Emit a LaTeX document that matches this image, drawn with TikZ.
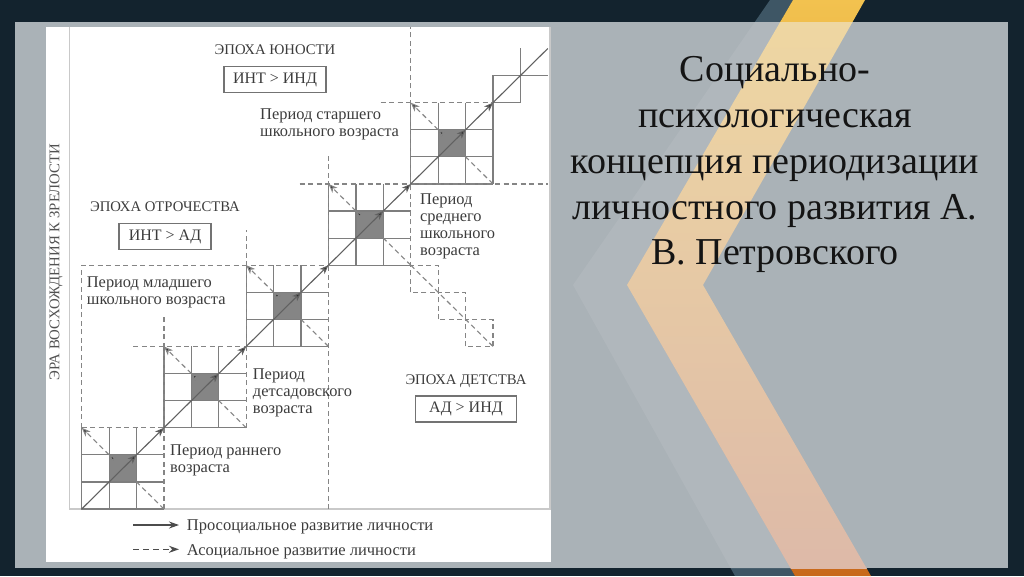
\documentclass[tikz,border=0pt]{standalone}
\usepackage{fontspec}
\setmainfont{Liberation Serif}
\usetikzlibrary{arrows.meta}

\definecolor{slidebg}{HTML}{13232E}
\definecolor{panelgrey}{HTML}{AAB2B7}
\definecolor{paleblue}{HTML}{7FA3B8}
\definecolor{goldtop}{HTML}{F2C24F}
\definecolor{orangebot}{HTML}{C8691A}
\definecolor{peachtop}{HTML}{EFD8A2}
\definecolor{peachmid}{HTML}{E9CAA9}
\definecolor{peachbot}{HTML}{DDB9A8}
\definecolor{inkgrey}{HTML}{3C3C3C}
\definecolor{linegrey}{HTML}{7E7E7E}
\definecolor{dashgrey}{HTML}{858585}
\definecolor{framegrey}{HTML}{C9C9C9}

\tikzset{
  cellline/.style={draw=linegrey, line width=1.2pt},
  bound/.style={draw=dashgrey, line width=1.2pt, dash pattern=on 5pt off 3.5pt},
  core/.style={fill=black!48},
  prosoc/.style={draw=black!62, line width=1.1pt, -{Stealth[length=9pt,width=7pt,inset=2.5pt,fill=black!85]}},
  asoc/.style={draw=black!48, line width=1.1pt, dash pattern=on 5pt off 3.5pt, -{Stealth[length=9pt,width=7pt,inset=2.5pt,fill=black!85]}},
  legendarrow/.style={draw=black!70, line width=1.3pt, -{Stealth[length=10pt,width=7pt]}},
  epoch/.style={text=inkgrey, font=\fontsize{14.7}{16}\selectfont, inner sep=0pt},
  ratiobox/.style={draw=black!55, line width=1.2pt, text=inkgrey, font=\fontsize{16}{18}\selectfont, minimum height=26pt, inner sep=0pt},
  periodlabel/.style={text=inkgrey, font=\fontsize{16.4}{17}\selectfont, align=left, inner sep=0pt, anchor=north west},
  legendtext/.style={text=inkgrey, font=\fontsize{16.5}{18}\selectfont, inner sep=0pt, anchor=base west},
  titleline/.style={text=black!92, font=\fontsize{38}{45.8}\selectfont, inner sep=0pt, anchor=base},
}

\begin{document}
\begin{tikzpicture}[x=1pt, y=-1pt, node distance=30pt]
  \useasboundingbox (0,0) rectangle (1024,576);

  % slide background
  \fill[slidebg] (0,0) rectangle (1024,576);
  \fill[paleblue, opacity=0.4] (770,0) -- (573,285) -- (735,576) -- (795,576) -- (627,285) -- (793,0) -- cycle;
  \shade[top color=goldtop, bottom color=orangebot] (793,0) -- (627,285) -- (795,576) -- (871,576) -- (703,285) -- (865,0) -- cycle;
  \fill[panelgrey] (15,22) rectangle (1008,568);
  \begin{scope}
    \clip (15,22) rectangle (1008,568);
    \fill[white, opacity=0.07] (770,0) -- (573,285) -- (735,576) -- (795,576) -- (627,285) -- (793,0) -- cycle;
    \shade[top color=peachtop, middle color=peachmid, bottom color=peachbot] (793,0) -- (627,285) -- (795,576) -- (871,576) -- (703,285) -- (865,0) -- cycle;
  \end{scope}

  \foreach \line [count=\n] in {Социально-, психологическая, концепция периодизации, личностного развития А., В. Петровского}
    \node[titleline] (title\n) at (775, {81.7+45.8*(\n-1)}) {\line};

  % scanned figure
  \fill[white] (46,27) rectangle (551,562);
  \draw[framegrey, line width=1.8pt] (69.5,27) -- (69.5,509) -- (550,509) -- (550,27);
  \node[rotate=90, text=black!68, font=\fontsize{14.8}{16}\selectfont, inner sep=0pt] (era) at (56,262) {ЭРА ВОСХОЖДЕНИЯ К ЗРЕЛОСТИ};

  \begin{scope}[xshift=81.7pt, yshift=-509pt, x=27.42pt, y=27.09pt]
    \foreach \k in {0,...,4} {
      \pgfmathtruncatemacro\a{3*\k}
      \begin{scope}[shift={(\a,\a)}]
        \fill[core] (1,1) rectangle (2,2);
        \draw[cellline] (0,3) -- (0,0) -- (3,0) (1,0) -- (1,3) (2,0) -- (2,3) (0,1) -- (3,1) (0,2) -- (3,2);
        \coordinate (ll\k) at (0,0);
        \coordinate (lr\k) at (3,0);
        \coordinate (ul\k) at (0,3);
        \coordinate (ur\k) at (3,3);
        \coordinate (cur\k) at (2,2);
        \coordinate (cul\k) at (1,2);
      \end{scope}
    }
    \draw[cellline] (lr4) -- (ur4);
    \draw[cellline] (15,15) rectangle (16,16) (16,16) -- (16,17) (16,16) -- (17,16);

    \draw[bound] (0,3) -- (0,9) -- (9,9);
    \draw[bound] (0,3) -- (3,3);
    \draw[bound] (1.88,6) -- (6,6);
    \draw[bound] (3,0) -- (3,7.1);
    \draw[bound] (6,3) -- (6,10.3);
    \draw[bound] (9,0) -- (9,13.1);
    \draw[bound] (7.95,12) -- (17,12);
    \draw[bound] (12,8) -- (12,17.8);
    \draw[bound] (10.9,15) -- (15,15);
    \foreach \m in {0,1,2}
      \draw[bound] (12+\m,8-\m) rectangle +(1,1);

    \coordinate (diagEnd) at (17,17);
    \coordinate (asocEnd) at (15,6);
    \foreach \k in {0,...,4} {
      \draw[prosoc] (ll\k) -- (cur\k);
      \draw[prosoc] (cur\k) -- (ur\k);
      \draw[asoc] (lr\k) -- (cul\k);
      \draw[asoc] (cul\k) -- (ul\k);
    }
    \draw[prosoc, -] (ur4) -- (diagEnd);
    \draw[asoc, -] (lr3) -- (asocEnd);
  \end{scope}

  \node[epoch] (youth) at (275,49.5) {ЭПОХА ЮНОСТИ};
  \node[ratiobox, minimum width=102pt, below of=youth] (youthratio) {ИНТ > ИНД};
  \node[epoch] (teen) at (165,206.5) {ЭПОХА ОТРОЧЕСТВА};
  \node[ratiobox, minimum width=92pt, below of=teen] (teenratio) {ИНТ > АД};
  \node[epoch] (child) at (466,381) {ЭПОХА ДЕТСТВА};
  \node[ratiobox, minimum width=101pt, below of=child, node distance=28pt] (childratio) {АД > ИНД};

  \node[periodlabel] (senior) at (260,108.3) {Период старшего\\школьного возраста};
  \node[periodlabel] (middle) at (420,193.3) {Период\\среднего\\школьного\\возраста};
  \node[periodlabel] (junior) at (86.7,276.7) {Период младшего\\школьного возраста};
  \node[periodlabel] (kinder) at (252.7,368.3) {Период\\детсадовского\\возраста};
  \node[periodlabel] (early) at (170,445) {Период раннего\\возраста};

  \coordinate (legProA) at (133,525);
  \coordinate (legProB) at (179,525);
  \coordinate (legAsoA) at (133,549.3);
  \coordinate (legAsoB) at (179,549.3);
  \draw[legendarrow] (legProA) -- (legProB);
  \draw[legendarrow, dash pattern=on 6pt off 4pt] (legAsoA) -- (legAsoB);
  \node[legendtext] (legpro) at (186.7,530.5) {Просоциальное развитие личности};
  \node[legendtext] (legaso) at (186.7,555) {Асоциальное развитие личности};
\end{tikzpicture}
\end{document}
